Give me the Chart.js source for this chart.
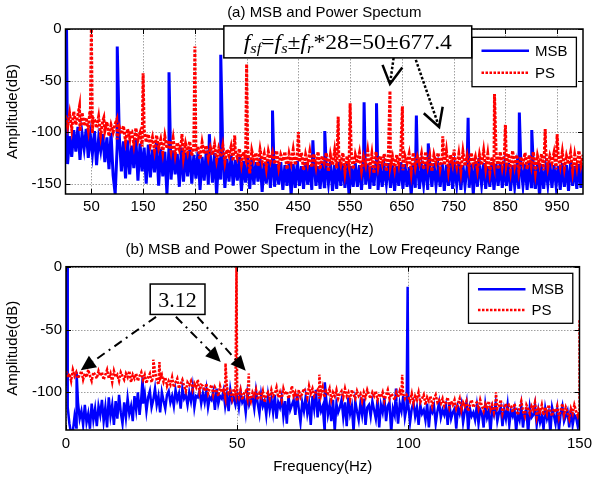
<!DOCTYPE html>
<html>
<head>
<meta charset="utf-8">
<script src="https://cdn.jsdelivr.net/npm/chart.js@4.4.0/dist/chart.umd.min.js"></script>
<style>
  html, body { margin: 0; padding: 0; background: #fff; }
  #wrap { position: relative; width: 597px; height: 480px; }
  .panel { position: absolute; left: 0; width: 597px; height: 240px; }
</style>
</head>
<body>
<div id="wrap">
  <div class="panel" style="top:0"><canvas id="full" width="597" height="240"></canvas></div>
  <div class="panel" style="top:240px"><canvas id="low" width="597" height="240"></canvas></div>
</div>
<script>
// ---- (a) full band, noise sampled every 4 Hz (dB) ----
const fullStep = 4;
const msbNoise = [
  -96,-131,-104,-124,-98,-119,-95,-127,-101,-116,
  -97,-125,-103,-121,-99,-132,-106,-118,-102,-129,
  -105,-136,-101,-142,-160,-112,-104,-138,-109,-145,
  -108,-141,-113,-135,-106,-147,-111,-138,-115,-150,
  -112,-144,-117,-139,-110,-152,-116,-143,-119,-160,
  -114,-146,-118,-141,-121,-153,-115,-148,-120,-143,
  -117,-150,-122,-145,-119,-156,-124,-147,-118,-151,
  -123,-149,-120,-161,-125,-146,-121,-154,-126,-148,
  -122,-152,-127,-147,-124,-157,-128,-149,-123,-155,
  -126,-151,-129,-148,-125,-158,-130,-150,-127,-154,
  -128,-153,-131,-151,-129,-156,-132,-152,-130,-161,
  -131,-154,-128,-152,-133,-155,-129,-151,-132,-156,
  -129,-152,-133,-155,-130,-153,-134,-150,-129,-157,
  -132,-155,-129,-152,-131,-154,-130,-162,-133,-153,
  -130,-153,-132,-156,-128,-151,-131,-155,-133,-152,
  -129,-156,-131,-153,-134,-150,-130,-154,-132,-157,
  -133,-152,-129,-155,-131,-153,-134,-161,-130,-154,
  -131,-155,-133,-151,-129,-156,-132,-153,-130,-152,
  -134,-153,-130,-157,-132,-152,-129,-155,-133,-151,
  -130,-156,-132,-152,-134,-154,-131,-160,-129,-153,
  -132,-151,-130,-155,-133,-153,-129,-156,-131,-152,
  -129,-154,-133,-152,-130,-157,-132,-153,-134,-155,
  -133,-152,-131,-156,-129,-153,-132,-155,-130,-162,
  -131,-155,-134,-151,-130,-154,-132,-152,-133,-156,
  -130,-153,-132,-157,-129,-152,-133,-155,-131,-154,
  -132
];
const psNoise = [
  -84,-95,-82,-97,-80,-93,-83,-99,-81,-94,
  -86,-98,-84,-101,-88,-96,-85,-103,-89,-99,
  -90,-104,-93,-100,-92,-107,-95,-102,-94,-109,
  -97,-106,-99,-112,-96,-108,-101,-114,-98,-110,
  -102,-113,-105,-118,-103,-115,-107,-120,-104,-116,
  -108,-119,-106,-122,-110,-117,-109,-124,-111,-120,
  -109,-123,-112,-119,-114,-126,-110,-121,-113,-125,
  -115,-122,-112,-127,-116,-124,-113,-129,-117,-123,
  -114,-128,-118,-125,-116,-131,-119,-126,-115,-140,
  -118,-127,-120,-133,-117,-129,-121,-135,-119,-128,
  -120,-131,-118,-134,-122,-128,-119,-136,-121,-130,
  -117,-132,-123,-129,-120,-137,-122,-131,-119,-134,
  -121,-133,-119,-136,-123,-130,-120,-138,-122,-132,
  -118,-135,-122,-131,-120,-139,-123,-133,-119,-136,
  -122,-130,-120,-137,-124,-132,-118,-135,-121,-140,
  -119,-134,-123,-131,-121,-138,-120,-133,-124,-136,
  -122,-132,-118,-137,-123,-130,-121,-139,-120,-134,
  -124,-131,-121,-136,-119,-133,-123,-138,-122,-130,
  -120,-135,-124,-132,-118,-137,-122,-131,-125,-134,
  -121,-138,-119,-133,-123,-136,-120,-131,-124,-137,
  -122,-132,-118,-135,-121,-139,-124,-133,-120,-136,
  -119,-134,-123,-131,-121,-137,-118,-133,-122,-138,
  -124,-131,-120,-136,-122,-133,-119,-139,-123,-132,
  -121,-137,-118,-134,-123,-130,-120,-136,-122,-133,
  -119,-135,-123,-131,-120,-138,-122,-134,-118,-132,
  -122
];
const msbPeakHz = [2, 100, 200, 278, 300, 400, 478, 501, 577, 601, 678, 701, 778, 799, 877, 901];
const msbPeakDb = [0, -17, -42, -102, -25, -79, -108, -99, -71, -72, -84, -111, -86, -125, -81, -98];
const psPeakHz = [27, 47, 50, 53, 74, 99, 125, 150, 225, 250, 327, 350, 450, 527, 550, 627, 651, 729, 751, 829, 850, 927, 950];
const psPeakDb = [-75, -80, 0, -86, -86, -88, -99, -43, -102, -17, -103, -34, -100, -85, -72, -60, -75, -104, -117, -63, -93, -97, -102];
const fullTicksX = [50, 150, 250, 350, 450, 550, 650, 750, 850, 950];
const fullTicksY = [0, -50, -100, -150];

// ---- (b) 0-150 Hz, noise sampled every 0.5 Hz (dB) ----
const lowStep = 0.5;
const lowMsbNoise = [
  -95,-112,-125,-133,-131,-119,-128,-108,-121,-115,-126,-110,-124,-117,-129,-109,-122,-113,-127,-111,
  -118,-106,-123,-112,-128,-104,-119,-110,-126,-107,-121,-102,-116,-125,-108,-120,-105,-117,-111,-123,
  -103,-114,-100,-118,-104,-109,-101,-115,-104,-99,-112,-106,-97,-110,-103,-116,-100,-107,-113,-102,
  -99,-108,-103,-111,-98,-106,-101,-113,-97,-105,-102,-110,-100,-107,-96,-112,-103,-104,-99,-109,
  -101,-108,-98,-112,-104,-106,-100,-114,-97,-109,-103,-105,-99,-111,-102,-115,-98,-107,-104,-110,
  -103,-112,-100,-108,-105,-116,-101,-110,-106,-104,-113,-99,-109,-117,-102,-111,-107,-118,-103,-114,
  -105,-116,-102,-121,-108,-112,-104,-119,-107,-125,-103,-114,-110,-106,-118,-101,-113,-124,-108,-115,
  -104,-117,-109,-126,-103,-113,-98,-120,-107,-115,-111,-129,-105,-118,-110,-123,-106,-131,-109,-116,
  -112,-106,-120,-108,-127,-104,-117,-111,-131,-107,-115,-122,-109,-118,-105,-126,-112,-110,-119,-107,
  -114,-121,-106,-128,-110,-116,-104,-123,-111,-108,-132,-113,-118,-107,-125,-109,-115,-103,-120,-112,
  -110,-124,-113,-108,-119,-112,-126,-110,-117,-114,-122,-109,-128,-113,-116,-111,-125,-115,-108,-120,
  -114,-118,-111,-126,-109,-121,-116,-113,-129,-112,-117,-110,-124,-115,-108,-131,-113,-119,-116,-122,
  -111,-125,-114,-117,-128,-110,-120,-115,-132,-113,-118,-109,-123,-116,-112,-127,-114,-121,-110,-126,
  -115,-119,-113,-131,-117,-122,-111,-128,-116,-114,-133,-112,-120,-118,-110,-126,-115,-124,-119,-129,
  -113,-121,-116,-132,-112,-118,-125,-114,-130,-117,-111,-123,-119,-115,-128,-113,-126,-118,-120,-127,
  -117
];
const lowPsNoise = [
  -83,-88,-85,-91,-82,-87,-84,-89,-86,-83,-90,-85,-88,-82,-87,-91,-84,-86,-89,-83,
  -87,-84,-90,-86,-82,-89,-85,-92,-83,-88,-86,-91,-84,-87,-90,-85,-88,-83,-92,-86,
  -89,-85,-91,-87,-84,-90,-86,-93,-88,-85,-92,-87,-83,-90,-94,-89,-86,-92,-88,-95,
  -91,-94,-88,-96,-92,-89,-97,-93,-90,-95,-99,-92,-94,-91,-98,-93,-96,-90,-100,-94,
  -95,-99,-93,-101,-97,-94,-102,-96,-99,-103,-95,-100,-98,-104,-96,-101,-99,-105,-97,-102,
  -100,-104,-98,-106,-101,-99,-105,-102,-107,-100,-103,-98,-106,-101,-104,-99,-108,-102,-100,-105,
  -98,-103,-101,-96,-104,-100,-106,-97,-102,-99,-105,-101,-95,-103,-100,-107,-98,-104,-101,-97,
  -99,-104,-95,-101,-97,-103,-100,-98,-105,-102,-96,-104,-99,-101,-97,-106,-100,-103,-98,-105,
  -101,-99,-104,-97,-103,-100,-106,-98,-102,-105,-99,-103,-101,-107,-100,-104,-98,-102,-105,-100,
  -103,-99,-106,-101,-104,-100,-107,-102,-98,-105,-101,-103,-106,-100,-104,-99,-103,-101,-105,-102,
  -104,-107,-101,-109,-103,-106,-100,-108,-105,-102,-110,-104,-107,-103,-111,-105,-102,-108,-106,-109,
  -105,-111,-108,-104,-112,-107,-110,-106,-113,-109,-105,-114,-108,-111,-107,-115,-110,-106,-112,-109,
  -108,-113,-106,-111,-115,-109,-112,-107,-114,-110,-116,-108,-113,-111,-106,-117,-112,-109,-115,-110,
  -111,-116,-109,-114,-118,-112,-107,-115,-119,-110,-113,-117,-111,-114,-108,-120,-113,-116,-110,-118,
  -112,-117,-110,-115,-119,-113,-116,-111,-120,-114,-109,-118,-112,-116,-121,-113,-117,-110,-115,-119,
  -114
];
const lowMsbPeakHz = [0.3, 3.1, 22.4, 75.6, 96.4, 99.8];
const lowMsbPeakDb = [0, -84, -88, -92, -97, -16];
const lowPsPeakHz = [25.5, 27.3, 46.6, 49.8, 53.4, 74, 98.2, 125.6, 150];
const lowPsPeakDb = [-74, -76, -77, 0, -85, -86, -86, -100, -42];
const lowTicksX = [0, 50, 100, 150];
const lowTicksY = [0, -50, -100];

const BLUE = '#0000ff';
const RED = '#ff0000';
const SANS = '"Liberation Sans", Arial, Helvetica, sans-serif';
const SERIF = '"Liberation Serif", "Times New Roman", serif';

Chart.defaults.font.family = SANS;
Chart.defaults.font.size = 15;
Chart.defaults.color = '#000';

// noise grid plus the discrete spectral lines, sorted by frequency
function series(step, noise, peakHz, peakDb) {
  const pts = noise.map((v, i) => ({ x: i * step, y: v }));
  peakHz.forEach((f, i) => pts.push({ x: f, y: peakDb[i] }));
  return pts.sort((a, b) => a.x - b.x);
}

// dotted grid under the traces, box + inward ticks on top
const frame = {
  id: 'frame',
  beforeDatasetsDraw(chart) {
    const { ctx, chartArea: a, scales: { x, y } } = chart;
    ctx.save();
    ctx.strokeStyle = '#a0a0a0';
    ctx.lineWidth = 1;
    ctx.setLineDash([1.5, 1.5]);
    ctx.beginPath();
    x.ticks.forEach(t => {
      const px = Math.round(x.getPixelForValue(t.value)) + 0.5;
      ctx.moveTo(px, a.top); ctx.lineTo(px, a.bottom);
    });
    y.ticks.forEach(t => {
      const py = Math.round(y.getPixelForValue(t.value)) + 0.5;
      ctx.moveTo(a.left, py); ctx.lineTo(a.right, py);
    });
    ctx.stroke();
    ctx.restore();
  },
  afterDatasetsDraw(chart) {
    const { ctx, chartArea: a, scales: { x, y } } = chart;
    ctx.save();
    ctx.strokeStyle = '#000';
    ctx.lineWidth = 1;
    ctx.beginPath();
    x.ticks.forEach(t => {
      const px = Math.round(x.getPixelForValue(t.value)) + 0.5;
      ctx.moveTo(px, a.bottom); ctx.lineTo(px, a.bottom - 5);
      ctx.moveTo(px, a.top); ctx.lineTo(px, a.top + 5);
    });
    y.ticks.forEach(t => {
      const py = Math.round(y.getPixelForValue(t.value)) + 0.5;
      ctx.moveTo(a.left, py); ctx.lineTo(a.left + 5, py);
      ctx.moveTo(a.right, py); ctx.lineTo(a.right - 5, py);
    });
    ctx.stroke();
    ctx.lineWidth = 1.5;
    ctx.strokeRect(a.left, a.top, a.right - a.left, a.bottom - a.top);
    ctx.restore();
  }
};

function arrowHead(ctx, x0, y0, x1, y1, len, half, filled) {
  const ang = Math.atan2(y1 - y0, x1 - x0);
  const bx = x1 - len * Math.cos(ang), by = y1 - len * Math.sin(ang);
  const nx = -Math.sin(ang) * half, ny = Math.cos(ang) * half;
  ctx.setLineDash([]);
  ctx.beginPath();
  ctx.moveTo(bx + nx, by + ny);
  ctx.lineTo(x1, y1);
  ctx.lineTo(bx - nx, by - ny);
  if (filled) { ctx.closePath(); ctx.fill(); } else ctx.stroke();
}

// legend box, labelled text box and arrows
const notes = {
  id: 'notes',
  afterDraw(chart, args, o) {
    const { ctx, chartArea: a, scales: { x, y } } = chart;
    ctx.save();

    const lg = o.legend;
    const lx = a.right - lg.right - lg.w, ly = a.top + lg.top;
    ctx.fillStyle = '#fff';
    ctx.fillRect(lx, ly, lg.w, lg.h);
    ctx.strokeStyle = '#000';
    ctx.lineWidth = 1.3;
    ctx.strokeRect(lx, ly, lg.w, lg.h);
    ctx.font = '15px ' + SANS;
    ctx.textBaseline = 'middle';
    ctx.fillStyle = '#000';
    lg.items.forEach((it, i) => {
      const ry = ly + lg.rows[i];
      ctx.strokeStyle = it.color;
      ctx.lineWidth = 2.5;
      ctx.setLineDash(it.dash);
      ctx.beginPath();
      ctx.moveTo(lx + 9.5, ry); ctx.lineTo(lx + 57, ry);
      ctx.stroke();
      ctx.setLineDash([]);
      ctx.fillText(it.label, lx + 63, ry + 1);
    });

    // arrows
    o.arrows.forEach(ar => {
      const x0 = x.getPixelForValue(ar.from[0]), y0 = y.getPixelForValue(ar.from[1]);
      const x1 = x.getPixelForValue(ar.to[0]), y1 = y.getPixelForValue(ar.to[1]);
      ctx.strokeStyle = '#000';
      ctx.fillStyle = '#000';
      ctx.lineWidth = ar.width;
      ctx.setLineDash(ar.dash);
      ctx.beginPath();
      const ang = Math.atan2(y1 - y0, x1 - x0);
      const stop = ar.filled ? ar.head : 0;
      ctx.moveTo(x0, y0);
      ctx.lineTo(x1 - stop * Math.cos(ang), y1 - stop * Math.sin(ang));
      ctx.stroke();
      arrowHead(ctx, x0, y0, x1, y1, ar.head, ar.half, ar.filled);
    });

    // text box
    const b = o.box;
    const bx0 = x.getPixelForValue(b.x[0]), bx1 = x.getPixelForValue(b.x[1]);
    const by0 = y.getPixelForValue(b.y[0]), by1 = y.getPixelForValue(b.y[1]);
    ctx.setLineDash([]);
    ctx.fillStyle = '#fff';
    ctx.fillRect(bx0, by0, bx1 - bx0, by1 - by0);
    ctx.strokeStyle = '#000';
    ctx.lineWidth = 1.5;
    ctx.strokeRect(bx0, by0, bx1 - bx0, by1 - by0);

    ctx.fillStyle = '#000';
    ctx.textBaseline = 'alphabetic';
    const size = b.size, sub = Math.round(size * 0.68);
    const fontOf = s => (s.it ? 'italic ' : '') + (s.sub ? sub : size) + 'px ' + SERIF;
    let w = 0;
    b.parts.forEach(s => { ctx.font = fontOf(s); w += ctx.measureText(s.t).width; });
    const cx = (bx0 + bx1) / 2, cy = (by0 + by1) / 2 + b.base;
    ctx.translate(cx, cy);
    ctx.scale(b.sx, 1);
    let px = -w / 2;
    b.parts.forEach(s => {
      ctx.font = fontOf(s);
      ctx.fillText(s.t, px, s.sub ? 4 : 0);
      px += ctx.measureText(s.t).width;
    });
    ctx.restore();
  }
};

function makeChart(id, cfg) {
  return new Chart(document.getElementById(id), {
    type: 'line',
    data: {
      datasets: [
        { label: 'MSB', data: cfg.msb, borderColor: BLUE, borderWidth: cfg.lw, order: 2 },
        { label: 'PS', data: cfg.ps, borderColor: RED, borderWidth: cfg.lw, borderDash: cfg.dash, order: 1 }
      ]
    },
    options: {
      responsive: false,
      devicePixelRatio: 1,
      animation: false,
      normalized: true,
      layout: { padding: { left: 0, right: cfg.padRight, top: 0, bottom: 0 } },
      elements: { point: { radius: 0 }, line: { tension: 0 } },
      datasets: { line: { clip: 0 } },
      scales: {
        x: {
          type: 'linear', min: cfg.xMin, max: cfg.xMax,
          afterBuildTicks: s => { s.ticks = cfg.ticksX.map(v => ({ value: v })); },
          afterFit: s => { s.height = cfg.xHeight; },
          grid: { display: false, drawTicks: false },
          border: { display: false },
          ticks: { padding: cfg.tickPadX, maxRotation: 0, autoSkip: false, font: { size: 15 } },
          title: { display: true, text: 'Frequency(Hz)', font: { size: 15 }, padding: { top: 0, bottom: cfg.titlePadX } }
        },
        y: {
          min: cfg.yMin, max: 0,
          afterBuildTicks: s => { s.ticks = cfg.ticksY.map(v => ({ value: v })); },
          afterFit: s => { s.width = cfg.yWidth; },
          grid: { display: false, drawTicks: false },
          border: { display: false },
          ticks: { padding: 4, font: { size: 15 } },
          title: { display: true, text: 'Amplitude(dB)', font: { size: 15 }, padding: { top: 3.5, bottom: 0 } }
        }
      },
      plugins: {
        legend: { display: false },
        tooltip: { enabled: false },
        title: {
          display: true, text: cfg.title, fullSize: false,
          font: { size: 15, weight: 'normal' }, color: '#000',
          padding: cfg.titlePad
        },
        notes: cfg.notes
      }
    },
    plugins: [frame, notes]
  });
}

const legendItems = [
  { label: 'MSB', color: BLUE, dash: [] },
  { label: 'PS', color: RED, dash: [2.5, 1.5] }
];

makeChart('full', {
  title: '(a) MSB and Power Spectum',
  msb: series(fullStep, msbNoise, msbPeakHz, msbPeakDb),
  ps: series(fullStep, psNoise, psPeakHz, psPeakDb),
  lw: 3, dash: [3, 1.5],
  xMin: 0, xMax: 1000, yMin: -160,
  ticksX: fullTicksX, ticksY: fullTicksY,
  padRight: 14, yWidth: 65.5, xHeight: 46,
  tickPadX: 4, titlePadX: 1.5,
  titlePad: { top: 3.5, bottom: 7.5 },
  notes: {
    legend: { right: 6.6, top: 8.3, w: 104.4, h: 49.4, rows: [13.4, 35.4], items: legendItems },
    box: {
      x: [306, 785], y: [3, -28], size: 20, sx: 1.18, base: 7,
      parts: [
        { t: 'f', it: true }, { t: 'sf', it: true, sub: true }, { t: '=' },
        { t: 'f', it: true }, { t: 's', it: true, sub: true }, { t: '\u00b1' },
        { t: 'f', it: true }, { t: 'r', it: true, sub: true }, { t: '*28=50\u00b1677.4' }
      ]
    },
    arrows: [
      { from: [634, -28], to: [627, -53.4], dash: [2.5, 2], width: 2.5, head: 18, half: 10, filled: false },
      { from: [677, -30], to: [722, -95], dash: [2.5, 2], width: 2.5, head: 18, half: 10, filled: false }
    ]
  }
});

makeChart('low', {
  title: '(b) MSB and Power Spectum in the  Low Freqeuncy Range',
  msb: series(lowStep, lowMsbNoise, lowMsbPeakHz, lowMsbPeakDb),
  ps: series(lowStep, lowPsNoise, lowPsPeakHz, lowPsPeakDb),
  lw: 2.5, dash: [2.5, 1.5],
  xMin: 0, xMax: 150, yMin: -130,
  ticksX: lowTicksX, ticksY: lowTicksY,
  padRight: 14.3, yWidth: 66, xHeight: 50,
  tickPadX: 5, titlePadX: 4,
  titlePad: { top: 1, bottom: 7.7 },
  notes: {
    legend: { right: 6.7, top: 6.6, w: 104.3, h: 50, rows: [16, 36.7], items: legendItems },
    box: {
      x: [24.6, 40.6], y: [-13.8, -38], size: 22, sx: 1, base: 7.5,
      parts: [{ t: '3.12' }]
    },
    arrows: [
      { from: [26.3, -39.9], to: [4.3, -82.4], dash: [9, 5, 2, 5], width: 2, head: 15, half: 7, filled: true },
      { from: [32.1, -39.9], to: [45.2, -75.8], dash: [9, 5, 2, 5], width: 2, head: 15, half: 7, filled: true },
      { from: [38.4, -39.9], to: [52.5, -82.9], dash: [9, 5, 2, 5], width: 2, head: 15, half: 7, filled: true }
    ]
  }
});
</script>
</body>
</html>
